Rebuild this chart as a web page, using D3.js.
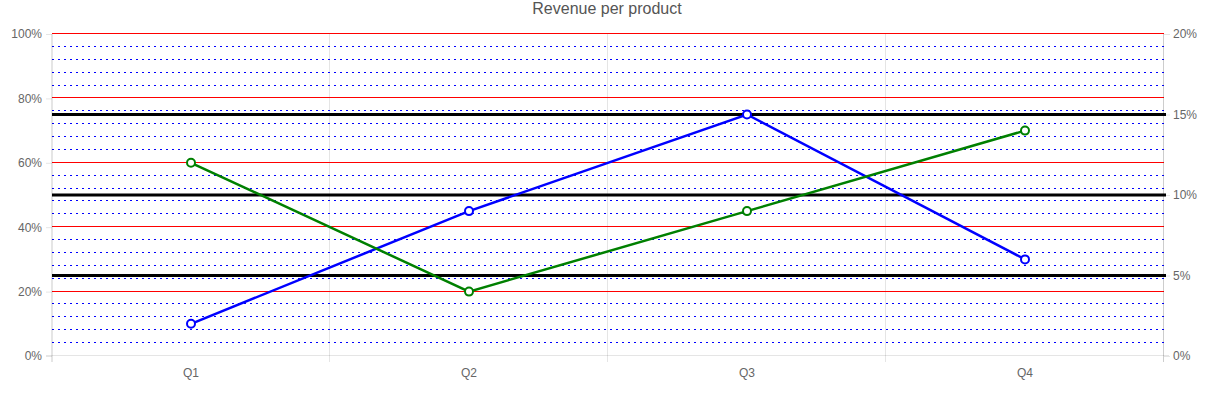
<!DOCTYPE html>
<html>
<head>
<meta charset="utf-8">
<script src="https://cdn.jsdelivr.net/npm/d3@7"></script>
<style>
  html, body { margin: 0; padding: 0; background: #fff; }
  svg { display: block; font-family: "Liberation Sans", Arial, Helvetica, sans-serif; }
</style>
</head>
<body>
<svg id="chart" width="1220" height="399"></svg>
<script>
// ---- data ----
const title = "Revenue per product";
const categories = ["Q1", "Q2", "Q3", "Q4"];
const seriesBlue = [10, 45, 75, 30];
const seriesGreen = [60, 20, 45, 70];
const leftTicks = [0, 20, 40, 60, 80, 100];
const leftMinorTicks = [4, 8, 12, 16, 24, 28, 32, 36, 44, 48, 52, 56, 64, 68, 72, 76, 84, 88, 92, 96];
const rightTicks = [0, 5, 10, 15, 20];
const rightGridTicks = [5, 10, 15];

(function () {
// ---- layout ----
const mLeft = 52, mRight = 1164, mTop = 34, mBottom = 356;

const svg = d3.select("#chart");

const x = d3.scaleBand().domain(categories).range([mLeft, mRight]).paddingInner(0).paddingOuter(0);
const yL = d3.scaleLinear().domain([0, 100]).range([mBottom, mTop]);
const yR = d3.scaleLinear().domain([0, 20]).range([mBottom, mTop]);
const crisp = v => Math.round(v) + 0.5;

const grid = svg.append("g");
const greyGrid = "rgba(0,0,0,0.1)";

// vertical category grid lines (band boundaries)
const bounds = categories.map(c => x(c)).concat([x(categories[categories.length - 1]) + x.bandwidth()]);
grid.selectAll("line.vx").data(bounds).join("line")
  .attr("x1", d => crisp(d) - 1).attr("x2", d => crisp(d) - 1)
  .attr("y1", mTop).attr("y2", mBottom + 6)
  .attr("stroke", greyGrid).attr("stroke-width", 1);

// bottom axis line
grid.append("line")
  .attr("x1", mLeft - 6).attr("x2", mRight + 5)
  .attr("y1", crisp(yL(0)) - 1).attr("y2", crisp(yL(0)) - 1)
  .attr("stroke", greyGrid);

// minor dotted blue lines
grid.selectAll("line.minor").data(leftMinorTicks).join("line")
  .attr("x1", mLeft).attr("x2", mRight)
  .attr("y1", d => crisp(yL(d)) - 1).attr("y2", d => crisp(yL(d)) - 1)
  .attr("stroke", "#0000ff").attr("stroke-width", 1)
  .attr("stroke-dasharray", "2,4");

// major red lines
grid.selectAll("line.major").data(leftTicks.filter(d => d !== 0)).join("line")
  .attr("x1", mLeft).attr("x2", mRight)
  .attr("y1", d => crisp(yL(d)) - 1).attr("y2", d => crisp(yL(d)) - 1)
  .attr("stroke", "#ff0000").attr("stroke-width", 1);

// right axis black thick lines
grid.selectAll("line.rg").data(rightGridTicks).join("line")
  .attr("x1", mLeft).attr("x2", mRight + 2)
  .attr("y1", d => yR(d)).attr("y2", d => yR(d))
  .attr("stroke", "#000").attr("stroke-width", 3);

// ---- axes ----
const axisLeft = d3.axisLeft(yL).tickValues(leftTicks).tickFormat(d => d + "%")
  .tickSizeInner(6).tickSizeOuter(0).tickPadding(4);
const gL = svg.append("g").attr("transform", `translate(${mLeft},0)`).call(axisLeft);

const axisRight = d3.axisRight(yR).tickValues(rightTicks).tickFormat(d => d + "%")
  .tickSizeInner(6).tickSizeOuter(0).tickPadding(3);
const gR = svg.append("g").attr("transform", `translate(${mRight},0)`).call(axisRight);

const axisBottom = d3.axisBottom(x).tickSize(0).tickPadding(12);
const gB = svg.append("g").attr("transform", `translate(0,${mBottom})`).call(axisBottom);

[gL, gR, gB].forEach(g => {
  g.select(".domain").remove();
  g.selectAll(".tick line").attr("stroke", greyGrid);
  g.selectAll(".tick text").attr("fill", "#666").style("font-size", "12px")
    .style("font-family", "'Liberation Sans', Arial, sans-serif");
});
// left/right domain vertical lines
svg.append("line").attr("x1", mLeft + 0.5).attr("x2", mLeft + 0.5).attr("y1", mTop).attr("y2", mBottom + 6).attr("stroke", greyGrid);
svg.append("line").attr("x1", mRight - 0.5).attr("x2", mRight - 0.5).attr("y1", mTop).attr("y2", mBottom + 6).attr("stroke", greyGrid);

// ---- series ----
const cx = c => x(c) + x.bandwidth() / 2;
function drawSeries(values, color) {
  const pts = categories.map((c, i) => [cx(c), yL(values[i])]);
  svg.append("path")
    .attr("d", d3.line()(pts))
    .attr("fill", "none").attr("stroke", color).attr("stroke-width", 2.5);
  svg.append("g").selectAll("circle").data(pts).join("circle")
    .attr("cx", d => d[0]).attr("cy", d => d[1]).attr("r", 4)
    .attr("fill", "#fff").attr("stroke", color).attr("stroke-width", 2);
}
drawSeries(seriesBlue, "#0000ff");
drawSeries(seriesGreen, "#008000");

// ---- title ----
svg.append("text")
  .attr("x", (mLeft + mRight) / 2 - 1).attr("y", 14)
  .attr("text-anchor", "middle")
  .attr("fill", "#555")
  .style("font-size", "16px")
  .text(title);
})();
</script>
</body>
</html>
